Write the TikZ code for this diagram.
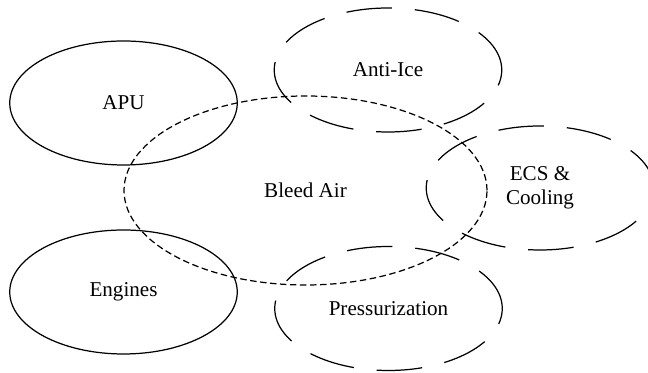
\documentclass[tikz,border=0pt]{standalone}
\usepackage{fontspec}
\setmainfont{Liberation Serif}
\usepackage{tikz}
\usetikzlibrary{shapes.geometric}

\begin{document}
\begin{tikzpicture}[
    system/.style={draw, ellipse, line width=0.7pt, inner sep=0pt,
                   minimum width=4.55cm, minimum height=2.48cm,
                   font=\fontsize{12}{13.5}\selectfont, align=center},
    longdash/.style={system, dash pattern=on 26pt off 13pt},
    hub/.style={system, dash pattern=on 3.7pt off 2pt,
                minimum width=7.26cm, minimum height=3.78cm}
]
    \clip (0,0) rectangle (12.96,7.46);
    \node[hub] (bleed) at (6.11,3.65) {Bleed Air};
    \node[system] (apu) at (2.47,5.40) {APU};
    \node[system] (engines) at (2.47,1.62) {Engines};
    \node[longdash] (antiice) at (7.76,6.06) {Anti-Ice};
    \node[longdash] (ecs) at (10.80,3.70) {ECS \&\\Cooling};
    \node[longdash] (press) at (7.77,1.29) {Pressurization};
\end{tikzpicture}
\end{document}
